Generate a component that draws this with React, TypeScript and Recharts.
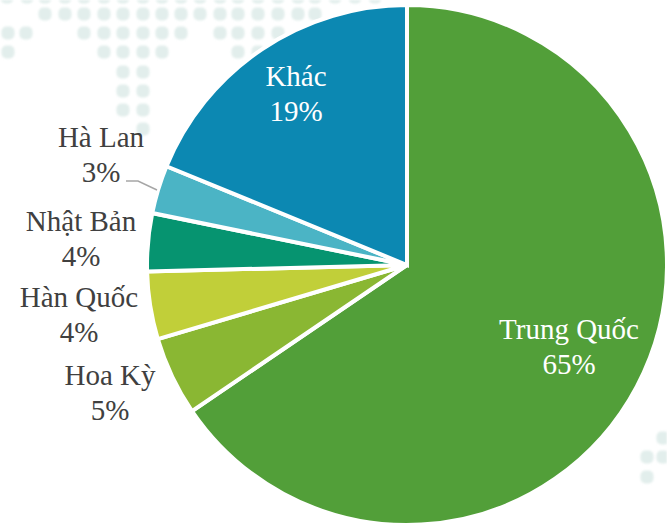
import React from 'react';
import { PieChart, Pie, Cell } from 'recharts';

const names = ['Trung Quốc', 'Hoa Kỳ', 'Hàn Quốc', 'Nhật Bản', 'Hà Lan', 'Khác'];
const values = [65.5, 4.9, 4.2, 3.6, 3.0, 18.8];
const percentLabels = ['65%', '5%', '4%', '4%', '3%', '19%'];
const colors = ['#529f39', '#8ab733', '#c1cf39', '#069470', '#4bb4c5', '#0c88b2'];
const labelColors = ['#ffffff', '#404040', '#404040', '#404040', '#404040', '#ffffff'];
const labelAnchors: [number, number][] = [[569, 339], [110, 385], [79, 307], [81, 231], [101, 147], [296, 86]];

const rows = [
  { y: -3, xs: [7, 27, 45, 65, 84, 104, 123, 143, 162, 181, 200, 220, 238, 258, 278, 298, 315, 335, 355, 375] },
  { y: 14, xs: [45, 65, 84, 104, 123, 143, 162, 181, 200, 220, 238, 258, 278, 298, 315] },
  { y: 33, xs: [8, 26, 84, 104, 123, 143, 162, 181, 220, 238, 258, 278] },
  { y: 52, xs: [8, 104, 123, 143, 162, 238, 258] },
  { y: 72, xs: [123, 143] },
  { y: 91, xs: [123, 143] },
  { y: 110, xs: [123, 143] },
  { y: 129, xs: [143] },
  { y: 438, xs: [663] },
  { y: 457, xs: [647, 663] },
  { y: 477, xs: [647] },
];

const data = names.map((name, i) => ({ name, value: values[i] }));

const renderLabel = (p: any) => {
  const i = p.index;
  const [x, y] = labelAnchors[i];
  const style = { fontFamily: '"Liberation Serif", serif', fontSize: 29, fill: labelColors[i] };
  return (
    <text x={x} y={y} textAnchor="middle" style={style}>
      <tspan x={x} dy={0}>{names[i]}</tspan>
      <tspan x={x} dy={34.5}>{percentLabels[i]}</tspan>
    </text>
  );
};

const renderLine = (p: any) => {
  if (p.index !== 4) return <g />;
  return <path d="M126 181 L138 181 L157 190" fill="none" stroke="#a6a6a6" strokeWidth={1.5} />;
};

export default function App() {
  return (
    <div style={{ position: 'fixed', left: 0, top: 0, width: 667, height: 526, background: '#fff' }}>
      <svg width={667} height={526} style={{ position: 'absolute', left: 0, top: 0, filter: 'blur(0.8px)' }}>
        {rows.flatMap((r) =>
          r.xs.map((x) => (
            <rect key={`${x}-${r.y}`} x={x - 6.5} y={r.y - 6.5} width={13} height={13} rx={5} fill="#e2eeec" />
          ))
        )}
      </svg>
      <div style={{ position: 'absolute', left: 0, top: 0 }}>
        <PieChart width={667} height={526} margin={{ top: 0, right: 0, bottom: 0, left: 0 }}>
          <Pie
            data={data}
            dataKey="value"
            nameKey="name"
            cx={407}
            cy={265}
            outerRadius={260}
            innerRadius={0}
            startAngle={90}
            endAngle={-270}
            stroke="#ffffff"
            strokeWidth={4}
            isAnimationActive={false}
            label={renderLabel}
            labelLine={renderLine}
          >
            {data.map((d, i) => (
              <Cell key={d.name} fill={colors[i]} />
            ))}
          </Pie>
        </PieChart>
      </div>
    </div>
  );
}
